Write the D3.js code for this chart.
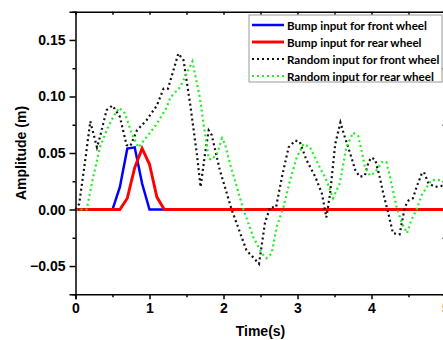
<!DOCTYPE html>
<html>
<head>
<meta charset="utf-8">
<script src="https://cdn.jsdelivr.net/npm/d3@7"></script>
<style>
  body { margin: 0; background: #fff; }
  svg { display: block; font-family: "Liberation Sans", Arial, sans-serif; }
  .axis path, .axis line { stroke: #000; stroke-width: 1.5; }
  .axis text { font-size: 14px; font-weight: bold; fill: #000; }
</style>
</head>
<body>
<div id="chart"></div>
<script>
// bump inputs
var bumpFrontTime = [0, 0.5, 0.6, 0.7, 0.8, 0.9, 1.0, 5];
var bumpFrontAmp  = [0, 0, 0.02, 0.054, 0.055, 0.023, 0, 0];
var bumpRearTime  = [0, 0.6, 0.7, 0.8, 0.9, 1.0, 1.1, 1.2, 5];
var bumpRearAmp   = [0, 0, 0.01, 0.037, 0.054, 0.04, 0.011, 0, 0];

// random inputs
var randFrontTime = [0, 0.05, 0.13, 0.2, 0.29, 0.33, 0.42, 0.5, 0.6, 0.69, 0.74, 0.83, 0.96, 1.1, 1.19, 1.25, 1.39, 1.46, 1.55, 1.64, 1.69, 1.75, 1.8, 1.84, 1.95, 2.11, 2.31, 2.48, 2.56, 2.63, 2.71, 2.79, 2.88, 2.97, 3.03, 3.12, 3.24, 3.33, 3.39, 3.44, 3.51, 3.58, 3.64, 3.71, 3.78, 3.84, 3.91, 3.96, 4.0, 4.05, 4.11, 4.16, 4.23, 4.29, 4.38, 4.45, 4.5, 4.56, 4.61, 4.68, 4.71, 4.77, 4.86, 4.95, 5.0];
var randFrontAmp  = [0, 0.005, 0.043, 0.078, 0.055, 0.064, 0.088, 0.092, 0.082, 0.057, 0.056, 0.07, 0.079, 0.092, 0.107, 0.107, 0.138, 0.132, 0.093, 0.049, 0.02, 0.049, 0.07, 0.066, 0.035, 0.0, -0.036, -0.048, -0.012, 0.002, 0.002, 0.029, 0.055, 0.061, 0.06, 0.044, 0.029, 0.014, -0.007, 0.014, 0.058, 0.077, 0.064, 0.05, 0.035, 0.029, 0.03, 0.042, 0.046, 0.044, 0.029, 0.014, -0.004, -0.021, -0.022, 0.002, 0.008, 0.01, 0.02, 0.032, 0.033, 0.023, 0.02, 0.021, 0.021];
var randRearTime  = [0, 0.15, 0.24, 0.33, 0.42, 0.51, 0.59, 0.67, 0.76, 0.85, 0.96, 1.1, 1.23, 1.28, 1.41, 1.5, 1.58, 1.68, 1.75, 1.8, 1.84, 1.91, 1.98, 2.02, 2.09, 2.18, 2.27, 2.4, 2.52, 2.58, 2.65, 2.72, 2.81, 2.9, 2.99, 3.08, 3.17, 3.28, 3.39, 3.48, 3.57, 3.66, 3.75, 3.82, 3.87, 3.91, 3.98, 4.05, 4.14, 4.2, 4.25, 4.29, 4.34, 4.41, 4.48, 4.54, 4.61, 4.68, 4.75, 4.81, 4.88, 5.0];
var randRearAmp   = [0, 0, 0.029, 0.055, 0.07, 0.082, 0.09, 0.085, 0.067, 0.055, 0.064, 0.076, 0.09, 0.099, 0.108, 0.12, 0.131, 0.099, 0.067, 0.045, 0.044, 0.049, 0.063, 0.058, 0.04, 0.02, 0, -0.024, -0.039, -0.043, -0.039, -0.015, 0.002, 0.026, 0.046, 0.058, 0.055, 0.04, 0.026, 0.01, 0.023, 0.055, 0.068, 0.065, 0.051, 0.038, 0.03, 0.033, 0.042, 0.042, 0.029, 0.017, 0.002, -0.012, -0.021, -0.009, 0, 0.013, 0.02, 0.026, 0.026, 0.026];

var xMajor = [0, 1, 2, 3, 4, 5];
var xMinor = [0.5, 1.5, 2.5, 3.5, 4.5];
var yMajor = [-0.05, 0, 0.05, 0.10, 0.15];
var yMinor = [-0.075, -0.025, 0.025, 0.075, 0.125, 0.175];

var seriesNames = ["Bump input for front wheel", "Bump input for rear wheel", "Random input for front wheel", "Random input for rear wheel"];

var width = 443, height = 340;

var svg = d3.select("#chart").append("svg")
  .attr("width", width)
  .attr("height", height);

var x = d3.scaleLinear().domain([0, 5]).range([75.5, 445.5]);
var y = d3.scaleLinear().domain([-0.075, 0.175]).range([294.3, 11.7]);

function zipData(t, v) {
  return t.map(function (d, i) { return [d, v[i]]; });
}

var series = [
  { name: seriesNames[0], data: zipData(bumpFrontTime, bumpFrontAmp), color: "#0000ff", width: 2.5, dash: null },
  { name: seriesNames[1], data: zipData(bumpRearTime, bumpRearAmp), color: "#ff0000", width: 2.9, dash: null },
  { name: seriesNames[2], data: zipData(randFrontTime, randFrontAmp), color: "#111", width: 2.2, dash: "2,3" },
  { name: seriesNames[3], data: zipData(randRearTime, randRearAmp), color: "#22ee22", width: 2.2, dash: "2,3" }
];

var line = d3.line()
  .x(function (d) { return x(d[0]); })
  .y(function (d) { return y(d[1]); });

svg.append("g")
  .selectAll("path")
  .data(series)
  .enter().append("path")
  .attr("d", function (d) { return line(d.data); })
  .attr("fill", "none")
  .attr("stroke", function (d) { return d.color; })
  .attr("stroke-width", function (d) { return d.width; })
  .attr("stroke-dasharray", function (d) { return d.dash; });

// axes
var bottomAxis = svg.append("g").attr("class", "axis")
  .attr("transform", "translate(0," + y(-0.075) + ")");
bottomAxis.call(d3.axisBottom(x).tickValues(xMajor).tickFormat(d3.format("d")).tickSize(5).tickPadding(4));
bottomAxis.append("g").call(d3.axisBottom(x).tickValues(xMinor).tickFormat("").tickSize(3))
  .select(".domain").remove();

var topAxis = svg.append("g").attr("class", "axis")
  .attr("transform", "translate(0," + y(0.175) + ")");
topAxis.call(d3.axisBottom(x).tickValues(xMajor.concat(xMinor)).tickFormat("").tickSize(3));

var leftAxis = svg.append("g").attr("class", "axis")
  .attr("transform", "translate(" + x(0) + ",0)");
leftAxis.call(d3.axisLeft(y).tickValues(yMajor).tickFormat(d3.format(".2f")).tickSize(6).tickPadding(4));
leftAxis.append("g").call(d3.axisLeft(y).tickValues(yMinor).tickFormat("").tickSize(3))
  .select(".domain").remove();

var rightAxis = svg.append("g").attr("class", "axis")
  .attr("transform", "translate(" + x(5) + ",0)");
rightAxis.call(d3.axisLeft(y).tickValues(yMinor).tickFormat("").tickSize(3));

// axis titles
svg.append("text")
  .attr("x", (x(0) + x(5)) / 2)
  .attr("y", 336)
  .attr("text-anchor", "middle")
  .style("font-size", "14px")
  .style("font-weight", "bold")
  .text("Time(s)");

svg.append("text")
  .attr("transform", "translate(26," + ((y(-0.075) + y(0.175)) / 2) + ") rotate(-90)")
  .attr("text-anchor", "middle")
  .style("font-size", "14px")
  .style("font-weight", "bold")
  .text("Amplitude (m)");

// legend
var legend = svg.append("g").attr("transform", "translate(249,15)");
legend.append("rect")
  .attr("width", 193)
  .attr("height", 67)
  .attr("fill", "#fff")
  .attr("stroke", "#999")
  .attr("stroke-width", 1);

var item = legend.selectAll(".item")
  .data(series)
  .enter().append("g")
  .attr("class", "item")
  .attr("transform", function (d, i) { return "translate(0," + (10 + i * 17) + ")"; });

item.append("line")
  .attr("x1", 3).attr("x2", 35)
  .attr("stroke", function (d) { return d.color; })
  .attr("stroke-width", function (d) { return d.width; })
  .attr("stroke-dasharray", function (d) { return d.dash; });

item.append("text")
  .attr("x", 38)
  .attr("y", 4.5)
  .style("font-family", "Lato, sans-serif")
  .style("font-size", "11.6px")
  .style("font-weight", "bold")
  .text(function (d) { return d.name; });
</script>
</body>
</html>
